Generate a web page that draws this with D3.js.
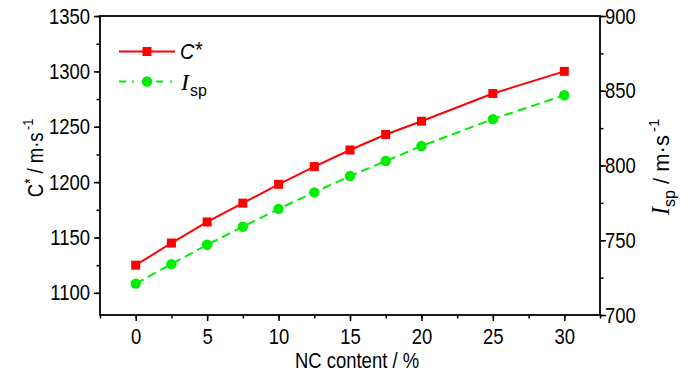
<!DOCTYPE html>
<html><head><meta charset="utf-8">
<script src="https://cdn.jsdelivr.net/npm/d3@7/dist/d3.min.js"></script>
<style>body{margin:0;background:#fff}svg{display:block}text{font-family:"Liberation Sans",Arial,sans-serif}</style>
</head><body><svg id="c" width="700" height="374"></svg>
<script>
const ncContent = [0, 2.5, 5, 7.5, 10, 12.5, 15, 17.5, 20, 25, 30];
const cStar = [1125, 1145, 1164, 1181, 1198, 1214, 1229, 1243, 1255, 1280, 1300];
const isp = [721, 734, 747, 759, 771, 782, 793, 803, 813, 831, 847];
const xTicks = [0, 5, 10, 15, 20, 25, 30];
const leftTicks = [1100, 1150, 1200, 1250, 1300, 1350];
const rightTicks = [700, 750, 800, 850, 900];

const svg = d3.select("#c");
const L = 100, R = 600, T = 16, B = 315;
const x = d3.scaleLinear().domain([-2.5, 32.5]).range([L, R]);
const yL = d3.scaleLinear().domain([1080, 1350]).range([B, T]);
const yR = d3.scaleLinear().domain([700, 900]).range([B, T]);
const fs = 22, SX = 0.84;

function condense(sel){
  sel.each(function(){
    const len = this.getComputedTextLength();
    d3.select(this).attr("textLength", len*SX).attr("lengthAdjust","spacingAndGlyphs");
  });
}
function styleAxis(g){
  g.select(".domain").remove();
  g.selectAll("line").attr("stroke","#000").attr("stroke-width",1.5);
  g.selectAll("text").attr("font-size",fs).attr("fill","#000").call(condense);
}
// minor ticks
svg.append("g").attr("transform",`translate(0,${B})`)
  .call(d3.axisBottom(x).tickValues(d3.range(-2.5,32.6,2.5)).tickSize(3.5).tickFormat("")).call(styleAxis);
svg.append("g").attr("transform",`translate(0,${B})`)
  .call(d3.axisBottom(x).tickValues(xTicks).tickSize(6).tickPadding(7).tickFormat(d3.format("d"))).call(styleAxis);
svg.append("g").attr("transform",`translate(${L},0)`)
  .call(d3.axisLeft(yL).tickValues(d3.range(1100,1351,25)).tickSize(3.5).tickFormat("")).call(styleAxis);
svg.append("g").attr("transform",`translate(${L},0)`)
  .call(d3.axisLeft(yL).tickValues(leftTicks).tickSize(6).tickPadding(4).tickFormat(d3.format("d"))).call(styleAxis);
svg.append("g").attr("transform",`translate(${R},0)`)
  .call(d3.axisRight(yR).tickValues(d3.range(700,901,25)).tickSize(3.5).tickFormat("")).call(styleAxis);
svg.append("g").attr("transform",`translate(${R},0)`)
  .call(d3.axisRight(yR).tickValues(rightTicks).tickSize(6).tickPadding(-1).tickFormat(d3.format("d"))).call(styleAxis);

// frame
svg.append("rect").attr("x",L).attr("y",T).attr("width",R-L).attr("height",B-T)
  .attr("fill","none").attr("stroke","#000").attr("stroke-width",1.8);

const red = "#ff0000", green = "#00ee00";
const lineC = d3.line().x((d,i)=>x(ncContent[i])).y(d=>yL(d));
const lineI = d3.line().x((d,i)=>x(ncContent[i])).y(d=>yR(d));
svg.append("path").attr("d",lineC(cStar)).attr("fill","none").attr("stroke",red).attr("stroke-width",2);
svg.append("path").attr("d",lineI(isp)).attr("fill","none").attr("stroke",green).attr("stroke-width",2).attr("stroke-dasharray","9,5");
const ms = 9;
svg.selectAll(".sq").data(cStar).enter().append("rect")
  .attr("x",(d,i)=>x(ncContent[i])-ms/2).attr("y",d=>yL(d)-ms/2).attr("width",ms).attr("height",ms).attr("fill",red);
svg.selectAll(".ci").data(isp).enter().append("circle")
  .attr("cx",(d,i)=>x(ncContent[i])).attr("cy",d=>yR(d)).attr("r",5.2).attr("fill",green);

// legend
const lg = svg.append("g");
lg.append("line").attr("x1",119).attr("x2",175).attr("y1",51.5).attr("y2",51.5).attr("stroke",red).attr("stroke-width",2);
lg.append("rect").attr("x",147-ms/2).attr("y",51.5-ms/2).attr("width",ms).attr("height",ms).attr("fill",red);
lg.append("line").attr("x1",119).attr("x2",141).attr("y1",81.5).attr("y2",81.5).attr("stroke",green).attr("stroke-width",2).attr("stroke-dasharray","7,6,2,7");
lg.append("line").attr("x1",156).attr("x2",175).attr("y1",81.5).attr("y2",81.5).attr("stroke",green).attr("stroke-width",2).attr("stroke-dasharray","7,7,2,7");
lg.append("circle").attr("cx",147).attr("cy",81.5).attr("r",5.2).attr("fill",green);
const t1 = lg.append("text").attr("transform","translate(180,59) scale(0.9,1)").attr("font-size",22).attr("font-style","italic");
t1.append("tspan").text("C");
t1.append("tspan").attr("dy",-2).text("*");
const t2 = lg.append("text").attr("transform","translate(181,90)").attr("font-size",24);
t2.append("tspan").attr("font-family","'Liberation Serif','Times New Roman',serif").attr("font-style","italic").text("I");
t2.append("tspan").attr("font-size",16).attr("dy",6).attr("dx",1).attr("font-family","'Liberation Sans',Arial,sans-serif").text("sp");

// axis titles
svg.append("text").attr("transform",`translate(357,368) scale(${SX},1)`).attr("text-anchor","middle").attr("font-size",fs).text("NC content / %");
const lt = svg.append("text").attr("transform",`translate(43,158) rotate(-90) scale(${SX},1)`).attr("text-anchor","middle").attr("font-size",fs);
lt.append("tspan").text("C");
lt.append("tspan").attr("dy",-7).attr("font-size",16).text("*");
lt.append("tspan").attr("dy",7).text(" / m·s");
lt.append("tspan").attr("dy",-10).attr("font-size",15).attr("dx",3).text("-1");
const rt = svg.append("text").attr("transform","translate(669,167) rotate(-90)").attr("text-anchor","middle").attr("font-size",fs);
rt.append("tspan").attr("font-family","'Liberation Serif','Times New Roman',serif").attr("font-style","italic").attr("font-size",25).text("I");
rt.append("tspan").attr("dy",6).attr("font-size",16).text("sp");
rt.append("tspan").attr("dy",-6).text("  / m·s");
rt.append("tspan").attr("dy",-10).attr("font-size",15).attr("dx",3).text("-1");
</script></body></html>
